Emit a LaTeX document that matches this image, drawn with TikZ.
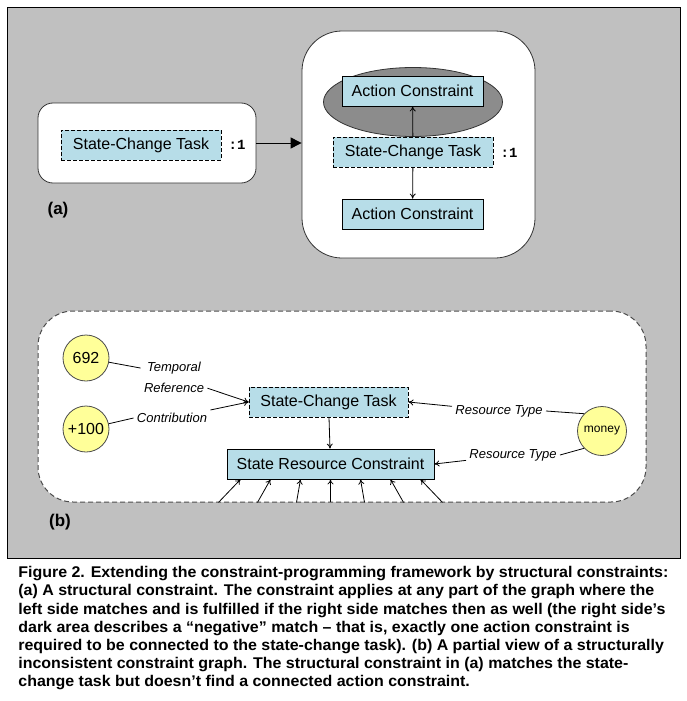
\documentclass[tikz,border=0pt]{standalone}
\usepackage{fontspec}
\setmainfont{Liberation Sans}
\setmonofont{Liberation Mono}
\newfontfamily\piefont[FakeStretch=1.03]{Liberation Sans}
\usetikzlibrary{shapes,arrows.meta,calc}

\definecolor{fondo}{RGB}{192,192,192}
\definecolor{celeste}{RGB}{183,221,232}
\definecolor{oscuro}{RGB}{140,140,140}
\definecolor{amarillo}{RGB}{255,255,153}

\begin{document}
\begin{tikzpicture}[x=1pt, y=-1pt, line width=0.8pt,
    tarea/.style={draw, dash pattern=on 4pt off 2pt, fill=celeste, minimum width=160pt, minimum height=30pt, inner sep=0pt, font=\fontsize{16}{18}\selectfont},
    accion/.style={draw, fill=celeste, minimum width=141pt, minimum height=30pt, inner sep=0pt, font=\fontsize{16}{18}\selectfont},
    valor/.style={circle, draw=black!70, fill=amarillo, minimum size=46pt, inner sep=0pt, font=\fontsize{16}{18}\selectfont},
    etiqueta/.style={font=\fontsize{13}{21}\selectfont\itshape, align=center, inner sep=3pt},
    mult/.style={font=\fontsize{14}{16}\selectfont\ttfamily\bfseries},
    flecha/.style={-{To[length=5pt,width=6pt]}},
    caja/.style={draw=black!80, fill=white}]
    \useasboundingbox (0,0) rectangle (687,701);

    % Fondo
    \draw[fill=fondo] (7,7) rectangle (680,558);

    % Parte (a)
    \node[caja, rounded corners=15pt, minimum width=218pt, minimum height=80pt] (izq) at (147,143) {};
    \node[caja, rounded corners=40pt, minimum width=233pt, minimum height=227pt] (der) at (418.5,144.5) {};
    \node[ellipse, draw=black!80, fill=oscuro, minimum width=179pt, minimum height=69pt] (neg) at (413,102) {};
    \node[tarea] (sct1) at (141,145) {State-Change Task};
    \node[mult] (m1) at (237,145) {:1};
    \node[accion] (ac1) at (412.5,91) {Action Constraint};
    \node[tarea] (sct2) at (413,152) {State-Change Task};
    \node[mult] (m2) at (509,153) {:1};
    \node[accion] (ac2) at (412.5,214) {Action Constraint};
    \node[font=\fontsize{17}{19}\selectfont\bfseries] (la) at (58,210) {(a)};

    \draw[-{Triangle[length=11pt,width=11pt]}, line width=1pt] (izq.east) -- (izq.east -| der.west);
    \draw[flecha] (sct2) -- (ac1);
    \draw[flecha] (sct2) -- (ac2);

    % Parte (b)
    \node[caja, draw=black!70, line width=1pt, dash pattern=on 5pt off 3pt, rounded corners=35pt, minimum width=608pt, minimum height=191pt] (marco) at (342,406.5) {};
    \node[valor] (c692) at (86,358) {692};
    \node[valor] (c100) at (86,429) {+100};
    \node[valor, minimum size=49pt, font=\fontsize{12}{14}\selectfont] (money) at (602,431) {money};
    \node[tarea, minimum width=159pt] (sct) at (328.5,402) {State-Change Task};
    \node[accion, minimum width=207pt] (src) at (330.5,464) {State Resource Constraint};
    \node[etiqueta] (ltemp) at (174,377) {Temporal\\Reference};
    \node[etiqueta] (lcontr) at (172,418) {Contribution};
    \node[etiqueta] (lrt1) at (499,411) {Resource Type};
    \node[etiqueta] (lrt2) at (513,455) {Resource Type};
    \node[font=\fontsize{17}{19}\selectfont\bfseries] (lb) at (60,522) {(b)};

    \draw (c692) -- (ltemp.165);
    \draw[flecha] (ltemp) -- (sct.west);
    \draw (c100) -- (lcontr.west);
    \draw[flecha] (lcontr) -- (sct.west);
    \draw (money.136) -- (lrt1.east);
    \draw[flecha] (lrt1) -- (sct.east);
    \draw (money.224) -- (lrt2.east);
    \draw[flecha] (lrt2) -- (src.east);
    \draw[flecha] (sct) -- (src);
    \foreach \a/\b in {-112/-90, -73/-60, -34/-30, 0/0, 34/30, 73/60, 112/90}
        \draw[flecha] ([xshift=\a pt, yshift=-23pt]src.south) -- ([xshift=\b pt]src.south);

    % Pie de figura
    \node[anchor=north west, align=left, inner sep=0pt, font=\piefont\bfseries\fontsize{15.5}{18.2}\selectfont] (pie) at (18,566) {%
        Figure 2. Extending the constraint-programming framework by structural constraints:\\
        (a) A structural constraint. The constraint applies at any part of the graph where the\\
        left side matches and is fulfilled if the right side matches then as well (the right side’s\\
        dark area describes a “negative” match – that is, exactly one action constraint is\\
        required to be connected to the state-change task). (b) A partial view of a structurally\\
        inconsistent constraint graph. The structural constraint in (a) matches the state-\\
        change task but doesn’t find a connected action constraint.};
\end{tikzpicture}
\end{document}
